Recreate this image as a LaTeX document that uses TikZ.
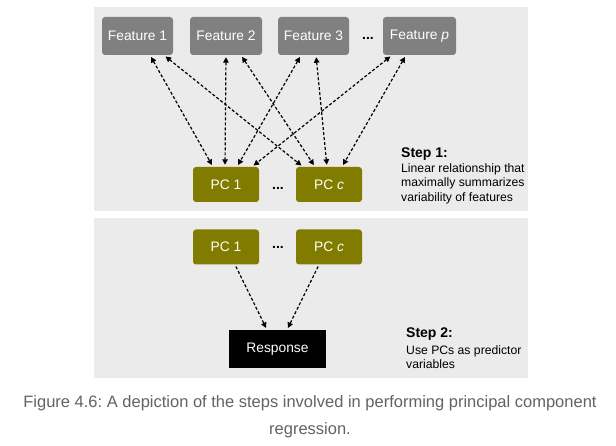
\documentclass[tikz,border=0pt]{standalone}
\usepackage{fontspec}
\setmainfont{Liberation Sans}
\frenchspacing
\usetikzlibrary{arrows.meta,calc}
\definecolor{panelgray}{HTML}{EBEBEB}
\definecolor{featgray}{HTML}{808080}
\definecolor{pcolive}{HTML}{817C00}
\definecolor{capgray}{HTML}{636363}
\begin{document}
\begin{tikzpicture}[x=1pt,y=-1pt,
  panel/.style={fill=panelgray,draw=none},
  feat/.style={fill=featgray,text=white,rounded corners=3pt,minimum height=38pt,inner sep=0pt,font=\fontsize{13.8}{15}\selectfont},
  pcbox/.style={fill=pcolive,text=white,rounded corners=3pt,minimum width=66pt,minimum height=35pt,inner sep=0pt,font=\fontsize{13.8}{15}\selectfont},
  respbox/.style={fill=black,text=white,minimum width=97pt,minimum height=38pt,inner sep=0pt,font=\fontsize{13.8}{15}\selectfont},
  dots/.style={font=\bfseries\fontsize{14}{15}\selectfont,inner sep=0pt},
  link/.style={line width=1.2pt,dash pattern=on 3pt off 2pt},
  both/.style={link,{Triangle[length=5.5pt,width=5.5pt]}-{Triangle[length=5.5pt,width=5.5pt]}},
  onew/.style={link,-{Triangle[length=5.5pt,width=5.5pt]}},
  steptitle/.style={anchor=west,font=\bfseries\fontsize{14}{16}\selectfont,inner sep=0pt},
  stepdesc/.style={anchor=north west,align=left,font=\fontsize{12.2}{14.5}\selectfont,inner sep=0pt},
  caption/.style={text=capgray,font=\fontsize{16.5}{18}\selectfont,inner sep=0pt}
]
\useasboundingbox (0,0) rectangle (616,446);
\fill[white] (0,0) rectangle (616,446);
\path[panel] (94,7) rectangle (528,211);
\path[panel] (94,218) rectangle (528,378);

\node[feat,minimum width=71pt] (F1) at (137.5,36) {Feature 1};
\node[feat,minimum width=72pt] (F2) at (226,36) {Feature 2};
\node[feat,minimum width=71pt] (F3) at (313.5,36) {Feature 3};
\node[dots] (fd) at (368,38) {...};
\node[feat,minimum width=73pt] (Fp) at (419.5,36) {Feature \textit{p}};

\node[pcbox] (P1) at (226,184.5) {PC 1};
\node[dots] (pd) at (278,188) {...};
\node[pcbox] (Pc) at (329,184.5) {PC \textit{c}};

\node[pcbox] (Q1) at (226,247) {PC 1};
\node[dots] (qd) at (278,247) {...};
\node[pcbox] (Qc) at (329,247) {PC \textit{c}};

\node[respbox] (R) at (277.5,349) {Response};

\begin{scope}[shorten <=2pt,shorten >=2pt]
\draw[both] ([xshift=12.5pt]F1.south) -- ([xshift=-13pt]P1.north);
\draw[both] ([xshift=26.5pt]F1.south) -- ([xshift=-26pt]Pc.north);
\draw[both] ([xshift=0pt]F2.south) -- ([xshift=-1pt]P1.north);
\draw[both] ([xshift=15pt]F2.south) -- ([xshift=-14pt]Pc.north);
\draw[both] ([xshift=-12.5pt]F3.south) -- ([xshift=11pt]P1.north);
\draw[both] ([xshift=2.5pt]F3.south) -- ([xshift=-2pt]Pc.north);
\draw[both] ([xshift=-27.5pt]Fp.south) -- ([xshift=26pt]P1.north);
\draw[both] ([xshift=-13.5pt]Fp.south) -- ([xshift=13pt]Pc.north);
\draw[onew] ([xshift=9pt]Q1.south) -- ([xshift=-10.5pt]R.north);
\draw[onew] ([xshift=-10pt]Qc.south) -- ([xshift=9.5pt]R.north);
\end{scope}

\node[steptitle] (s1) at (401,154) {Step 1:};
\node[stepdesc] (d1) at (401,163) {Linear relationship that\\maximally summarizes\\variability of features};
\node[steptitle] (s2) at (406,334) {Step 2:};
\node[stepdesc] (d2) at (406,345) {Use PCs as predictor\\variables};

\node[caption] (c1) at (310,403) {Figure 4.6: A depiction of the steps involved in performing principal component};
\node[caption] (c2) at (310,430) {regression.};
\end{tikzpicture}
\end{document}
